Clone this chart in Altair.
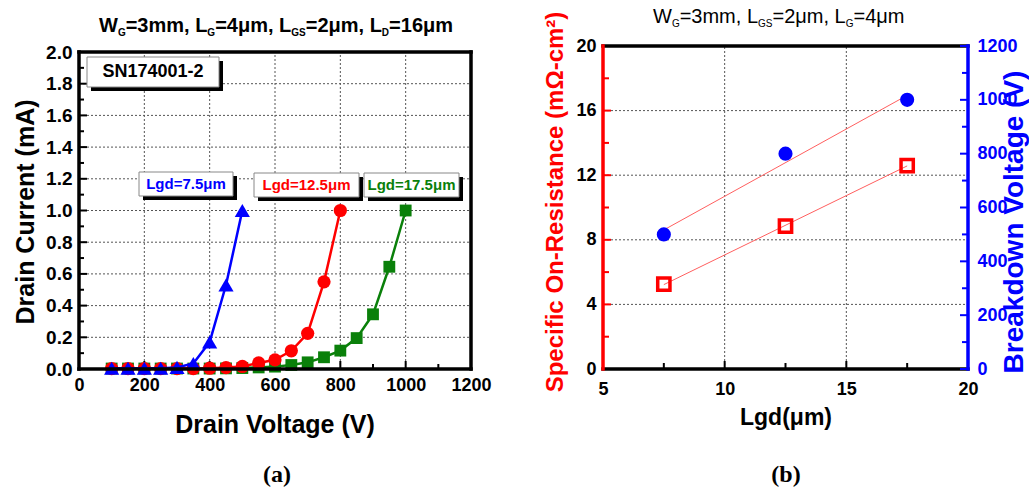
import altair as alt
import pandas as pd

SANS = "Liberation Sans"
SERIF = "Liberation Serif"
W, H = 1029, 490

# ---------- (a) drain current vs drain voltage ----------
vd_lgd75 = [100, 150, 200, 250, 300, 350, 400, 450, 500]
id_lgd75 = [0.005, 0.005, 0.005, 0.005, 0.01, 0.035, 0.17, 0.53, 1.0]
vd_lgd125 = [100, 150, 200, 250, 300, 350, 400, 450, 500, 550, 600, 650, 700, 750, 800]
id_lgd125 = [0.003, 0.003, 0.003, 0.003, 0.003, 0.003, 0.005, 0.009, 0.016, 0.038,
             0.058, 0.115, 0.225, 0.55, 1.0]
vd_lgd175 = [100, 150, 200, 250, 300, 350, 400, 450, 500, 550, 600, 650, 700, 750,
             800, 850, 900, 950, 1000]
id_lgd175 = [0.003, 0.003, 0.003, 0.003, 0.003, 0.003, 0.003, 0.004, 0.006, 0.01,
             0.015, 0.025, 0.042, 0.074, 0.116, 0.195, 0.345, 0.645, 1.0]

# ---------- (b) specific on-resistance and breakdown voltage vs Lgd ----------
lgd_um = [7.5, 12.5, 17.5]
ron_sp = [5.25, 8.85, 12.6]
bv_volts = [500, 800, 1000]

# tick values
vd_major = [0, 200, 400, 600, 800, 1000, 1200]
vd_minor = [100, 300, 500, 700, 900, 1100]
id_major = [0.0, 0.2, 0.4, 0.6, 0.8, 1.0, 1.2, 1.4, 1.6, 1.8, 2.0]
id_minor = [0.1, 0.3, 0.5, 0.7, 0.9, 1.1, 1.3, 1.5, 1.7, 1.9]
lgd_major = [5, 10, 15, 20]
lgd_minor = [7.5, 12.5, 17.5]
ron_major = [0, 4, 8, 12, 16, 20]
ron_minor = [2, 6, 10, 14, 18]
bv_major = [0, 200, 400, 600, 800, 1000, 1200]
bv_minor = [100, 300, 500, 700, 900, 1100]

# frame placement on the canvas (pixels)
A_LEFT, A_RIGHT, A_BOTTOM, A_TOP = 79, 471, 369, 52
B_LEFT, B_RIGHT, B_BOTTOM, B_TOP = 603, 968, 369, 46

BLUE, RED, GREEN = "#0000ff", "#ff0000", "#0a800a"


def lin(domain, rng):
    return alt.Scale(domain=domain, range=rng, nice=False, zero=False)


sx_a = lin([0, 1200], [A_LEFT, A_RIGHT])
sy_a = lin([0, 2], [A_BOTTOM, A_TOP])
sx_b = lin([5, 20], [B_LEFT, B_RIGHT])
sy_r = lin([0, 20], [B_BOTTOM, B_TOP])
sy_v = lin([0, 1200], [B_BOTTOM, B_TOP])


def labels(orient, offset, values, fmt, pad, size, color="black"):
    return alt.Axis(orient=orient, offset=offset, values=values, format=fmt,
                    domain=False, ticks=False, grid=False, title=None,
                    labelPadding=pad, labelFont=SANS, labelFontWeight="bold",
                    labelFontSize=size, labelColor=color, labelFlush=False,
                    labelOverlap=False)


ax_xa = labels("bottom", A_BOTTOM - H, vd_major, "d", 7, 18)
ax_ya = labels("left", -A_LEFT, id_major, ".1f", 7, 19)
ax_xb = labels("bottom", B_BOTTOM - H, lgd_major, "d", 11, 18)
ax_yr = labels("left", -B_LEFT, ron_major, "d", 7, 18)
ax_yv = labels("right", B_RIGHT - W, bv_major, "d", 9, 18, BLUE)


def channel(scale, axis, cls, dcls):
    def make(field=None, datum=None):
        if field is not None:
            return cls(field, type="quantitative", scale=scale, axis=axis)
        return dcls(datum, type="quantitative", scale=scale, axis=axis)
    return make


XA = channel(sx_a, ax_xa, alt.X, alt.XDatum)
YA = channel(sy_a, ax_ya, alt.Y, alt.YDatum)
XB = channel(sx_b, ax_xb, alt.X, alt.XDatum)
YR = channel(sy_r, ax_yr, alt.Y, alt.YDatum)
YV = channel(sy_v, ax_yv, alt.Y, alt.YDatum)


def vals(v):
    return pd.DataFrame({"v": v})


ONE = pd.DataFrame({"k": [0]})
GRID = dict(color="#555555", strokeDash=[2, 2], strokeWidth=1)
FRAME = dict(strokeWidth=3.5, strokeCap="square")


def ticks_x(values, xf, yf, y0, size, color="black"):
    return alt.Chart(vals(values)).mark_tick(
        orient="vertical", size=size, thickness=2, yOffset=-size / 2,
        color=color, opacity=1).encode(x=xf("v"), y=yf(datum=y0))


def ticks_y(values, xf, yf, x0, size, sign, color="black"):
    return alt.Chart(vals(values)).mark_tick(
        orient="horizontal", size=size, thickness=2, xOffset=sign * size / 2,
        color=color, opacity=1).encode(y=yf("v"), x=xf(datum=x0))


def iv_curve(v, i, color, shape, size):
    base = alt.Chart(pd.DataFrame({"vd": v, "id": i})).encode(x=XA("vd"), y=YA("id"))
    return [base.mark_line(color=color, strokeWidth=2.5),
            base.mark_point(shape=shape, filled=True, size=size, color=color, opacity=1)]


# ---------- panel (a) ----------
a_layers = [
    alt.Chart(vals(vd_major[1:-1])).mark_rule(**GRID).encode(
        x=XA("v"), y=YA(datum=0), y2=alt.datum(2)),
    alt.Chart(vals(id_major[1:-1])).mark_rule(**GRID).encode(
        y=YA("v"), x=XA(datum=0), x2=alt.datum(1200)),
    ticks_x(vd_major, XA, YA, 0, 8),
    ticks_x(vd_minor, XA, YA, 0, 5),
    ticks_y(id_major, XA, YA, 0, 8, 1),
    ticks_y(id_minor, XA, YA, 0, 5, 1),
]
a_layers += iv_curve(vd_lgd175, id_lgd175, GREEN, "square", 140)
a_layers += iv_curve(vd_lgd125, id_lgd125, RED, "circle", 175)
a_layers += iv_curve(vd_lgd75, id_lgd75, BLUE, "triangle-up", 230)
a_layers += [
    alt.Chart(ONE).mark_rule(color="black", **FRAME).encode(
        x=XA(datum=0), x2=alt.datum(1200), y=YA(datum=0)),
    alt.Chart(ONE).mark_rule(color="black", **FRAME).encode(
        x=XA(datum=0), x2=alt.datum(1200), y=YA(datum=2)),
    alt.Chart(ONE).mark_rule(color="black", **FRAME).encode(
        x=XA(datum=0), y=YA(datum=0), y2=alt.datum(2)),
    alt.Chart(ONE).mark_rule(color="black", **FRAME).encode(
        x=XA(datum=1200), y=YA(datum=0), y2=alt.datum(2)),
]
panel_a = alt.layer(*a_layers)

# ---------- panel (b) ----------
df_b = pd.DataFrame({"lgd": lgd_um, "ron": ron_sp, "bv": bv_volts})
FIT = dict(color="#ff5f5f", strokeWidth=1)

ron_group = alt.layer(
    alt.Chart(vals(lgd_major[1:-1])).mark_rule(**GRID).encode(
        x=XB("v"), y=YR(datum=0), y2=alt.datum(20)),
    alt.Chart(vals(ron_major[1:-1])).mark_rule(**GRID).encode(
        y=YR("v"), x=XB(datum=5), x2=alt.datum(20)),
    ticks_x(lgd_major, XB, YR, 0, 8),
    ticks_x(lgd_minor, XB, YR, 0, 6),
    ticks_y(ron_major, XB, YR, 5, 8, 1, RED),
    ticks_y(ron_minor, XB, YR, 5, 6, 1, RED),
    alt.Chart(df_b).transform_regression("lgd", "ron").mark_line(**FIT).encode(
        x=XB("lgd"), y=YR("ron")),
    alt.Chart(df_b).mark_point(shape="square", filled=False, size=150, strokeWidth=3.5,
                               color=RED, opacity=1).encode(x=XB("lgd"), y=YR("ron")),
    alt.Chart(ONE).mark_rule(color="black", **FRAME).encode(
        x=XB(datum=5), x2=alt.datum(20), y=YR(datum=0)),
    alt.Chart(ONE).mark_rule(color="black", **FRAME).encode(
        x=XB(datum=5), x2=alt.datum(20), y=YR(datum=20)),
    alt.Chart(ONE).mark_rule(color=RED, **FRAME).encode(
        x=XB(datum=5), y=YR(datum=0), y2=alt.datum(20)),
)
bv_group = alt.layer(
    ticks_y(bv_major, XB, YV, 20, 8, -1, BLUE),
    ticks_y(bv_minor, XB, YV, 20, 6, -1, BLUE),
    alt.Chart(df_b).transform_regression("lgd", "bv").mark_line(**FIT).encode(
        x=XB("lgd"), y=YV("bv")),
    alt.Chart(df_b).mark_point(shape="circle", filled=True, size=200, color=BLUE,
                               opacity=1).encode(x=XB("lgd"), y=YV("bv")),
    alt.Chart(ONE).mark_rule(color=BLUE, **FRAME).encode(
        x=XB(datum=20), y=YV(datum=0), y2=alt.datum(1200)),
)
panel_b = alt.layer(ron_group, bv_group).resolve_scale(y="independent")

# ---------- text and label boxes ----------
PX = dict(x=alt.X("x:Q", scale=None, axis=None), y=alt.Y("y:Q", scale=None, axis=None))

WIDTH_BOLD = {" ": 278, ",": 278, "=": 584, "D": 722, "G": 778, "L": 611, "S": 667,
              "W": 944, "m": 889, "μ": 611}
WIDTH_REG = {" ": 278, ",": 278, "=": 584, "D": 722, "G": 778, "L": 556, "S": 667,
             "W": 944, "m": 833, "μ": 576}
for d in "0123456789":
    WIDTH_BOLD[d] = WIDTH_REG[d] = 556


def subscripted(pieces, x0, base, size, sub, widths):
    rows, x = [], x0
    for txt, low in pieces:
        s = sub if low else size
        rows.append({"text": txt, "x": x, "y": base + (4 if low else 0), "size": s})
        x += sum(widths[c] for c in txt) * s / 1000
    return pd.DataFrame(rows)


title_a = subscripted([("W", 0), ("G", 1), ("=3mm, L", 0), ("G", 1), ("=4μm, L", 0),
                       ("GS", 1), ("=2μm, L", 0), ("D", 1), ("=16μm", 0)],
                      99, 32, 20, 10, WIDTH_BOLD)
title_b = subscripted([("W", 0), ("G", 1), ("=3mm, L", 0), ("GS", 1), ("=2μm, L", 0),
                       ("G", 1), ("=4μm", 0)],
                      653, 23, 20, 10, WIDTH_REG)


def title_layer(df, weight):
    return alt.Chart(df).mark_text(font=SANS, fontWeight=weight, align="left",
                                   baseline="alphabetic", color="black").encode(
        text="text:N", size=alt.Size("size:Q", scale=None, legend=None), **PX)


boxes = pd.DataFrame({"x": [87, 139, 254, 364], "x2": [219, 233, 359, 459],
                      "y": [57, 172, 173, 173], "y2": [87, 196, 197, 197]})
shadows = boxes + 4
box_text = pd.DataFrame({
    "text": ["SN174001-2", "Lgd=7.5μm", "Lgd=12.5μm", "Lgd=17.5μm"],
    "x": [153, 186, 306.5, 411.5], "y": [72, 184, 185, 185],
    "size": [18, 15, 15, 15], "color": ["black", BLUE, RED, GREEN]})

axis_titles_bold = pd.DataFrame({
    "text": ["Drain Current (mA)", "Drain Voltage (V)", "Breakdown Voltage (V)", "Lgd(μm)",
             "Specific On-Resistance (mΩ-cm²)"],
    "x": [26, 275, 1015, 786, 556], "y": [212, 425, 222, 418, 202],
    "size": [25, 25, 28, 23, 24], "angle": [270, 0, 270, 0, 270],
    "color": ["black", "black", BLUE, "black", RED]})
captions = pd.DataFrame({"text": ["(a)", "(b)"], "x": [277, 786], "y": [475, 475]})


def centred_text(df, weight):
    return alt.Chart(df).mark_text(font=SANS, fontWeight=weight, align="center",
                                   baseline="middle").encode(
        text="text:N", size=alt.Size("size:Q", scale=None, legend=None),
        angle=alt.Angle("angle:Q", scale=None),
        color=alt.Color("color:N", scale=None), **PX)


deco = [
    title_layer(title_a, "bold"),
    title_layer(title_b, "normal"),
    alt.Chart(shadows).mark_rect(color="black").encode(
        x2="x2:Q", y2="y2:Q", **PX),
    alt.Chart(boxes).mark_rect(fill="white", stroke="#888888", strokeWidth=1).encode(
        x2="x2:Q", y2="y2:Q", **PX),
    alt.Chart(box_text).mark_text(font=SANS, fontWeight="bold", align="center",
                                  baseline="middle").encode(
        text="text:N", size=alt.Size("size:Q", scale=None, legend=None),
        color=alt.Color("color:N", scale=None), **PX),
    centred_text(axis_titles_bold, "bold"),
    alt.Chart(captions).mark_text(font=SERIF, fontWeight="bold", fontSize=24,
                                  align="center", baseline="middle",
                                  color="black").encode(text="text:N", **PX),
]

chart = alt.layer(panel_a, panel_b, *deco).resolve_scale(
    x="independent", y="independent"
).properties(
    width=W, height=H, padding=0, background="white",
    autosize=alt.AutoSizeParams(type="none"),
).configure_view(stroke=None)

chart.save("out.html", embed_options={"renderer": "svg", "actions": False})
